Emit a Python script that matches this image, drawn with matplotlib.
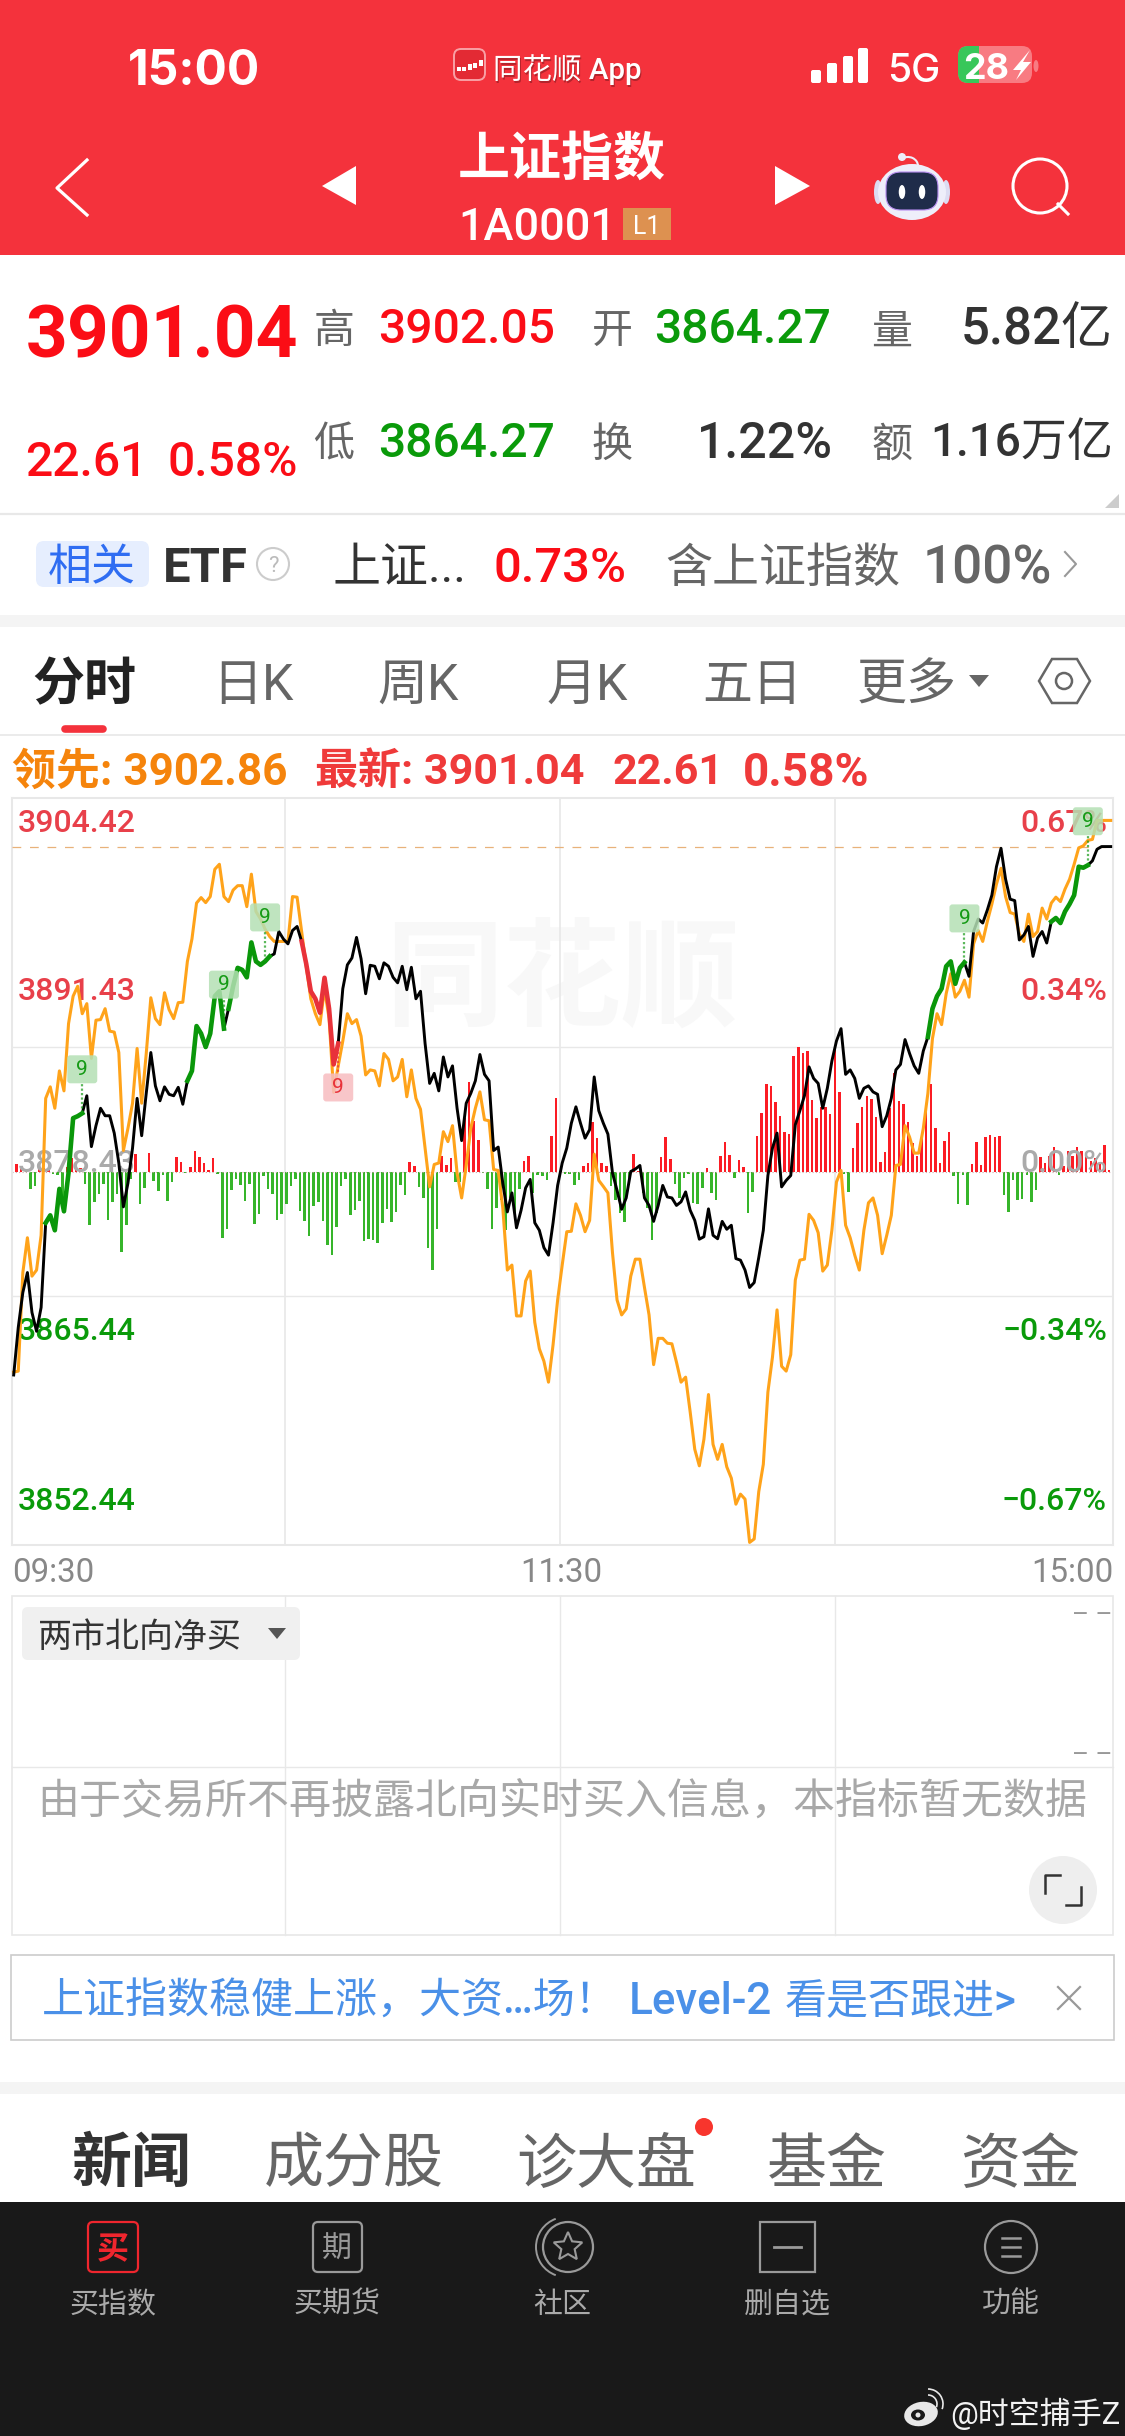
#!/usr/bin/env python3
# -*- coding: utf-8 -*-
"""Shanghai index intraday screen (mobile quote app)."""

import numpy as np
import matplotlib
matplotlib.use("Agg")
import matplotlib.pyplot as plt
from matplotlib.patches import Circle, Ellipse, FancyBboxPatch, Polygon, Rectangle, Arc

plt.rcParams["font.family"] = ["Roboto", "Noto Sans CJK SC", "DejaVu Sans"]

# -------------------------------------------------------
# Data: one value per minute, 09:30 -> 15:00
# -------------------------------------------------------
index_price = [
    3864.27, 3867.58, 3870.01, 3871.40, 3868.62, 3867.31, 3868.97, 3874.86, 3875.38, 3874.34,
    3877.22, 3875.66, 3878.33, 3882.14, 3882.28, 3882.48, 3883.70, 3880.16, 3881.62, 3882.83,
    3882.31, 3882.31, 3881.10, 3879.02, 3875.97, 3877.63, 3880.06, 3883.52, 3880.92, 3883.87,
    3886.71, 3884.39, 3883.35, 3884.32, 3883.80, 3883.70, 3884.29, 3883.11, 3884.74, 3885.43,
    3888.55, 3888.03, 3887.09, 3888.03, 3890.63, 3890.97, 3888.37, 3889.76, 3891.32, 3892.60,
    3892.46, 3891.94, 3894.37, 3893.05, 3892.81, 3893.05, 3893.40, 3893.57, 3895.13, 3894.61,
    3894.27, 3895.20, 3895.48, 3894.44, 3892.88, 3890.97, 3890.45, 3889.48, 3891.91, 3889.76,
    3885.88, 3887.34, 3891.15, 3892.81, 3893.29, 3894.72, 3893.23, 3890.80, 3892.78, 3892.71,
    3891.84, 3892.95, 3892.71, 3891.94, 3891.56, 3892.71, 3891.08, 3892.64, 3890.45, 3890.97,
    3887.34, 3884.56, 3885.26, 3884.04, 3886.40, 3885.01, 3885.78, 3882.83, 3880.58, 3883.18,
    3883.87, 3884.74, 3886.57, 3885.19, 3884.74, 3879.89, 3880.13, 3877.63, 3875.62, 3876.94,
    3874.51, 3875.73, 3877.29, 3877.88, 3874.86, 3874.34, 3873.13, 3872.61, 3874.86, 3877.46,
    3879.02, 3880.06, 3881.79, 3882.93, 3881.79, 3880.75, 3881.34, 3885.01, 3882.66, 3881.79,
    3881.03, 3878.33, 3877.11, 3875.80, 3876.59, 3878.43, 3878.60, 3878.85, 3876.59, 3876.07,
    3874.96, 3876.07, 3877.46, 3876.66, 3876.59, 3876.07, 3876.32, 3877.01, 3875.73, 3875.03,
    3873.72, 3873.89, 3875.83, 3873.99, 3873.75, 3874.96, 3874.41, 3874.69, 3872.37, 3872.26,
    3871.57, 3870.36, 3870.70, 3872.44, 3874.34, 3878.15, 3880.06, 3881.10, 3877.36, 3877.81,
    3878.15, 3881.69, 3882.66, 3883.70, 3885.71, 3884.91, 3884.56, 3882.83, 3884.22, 3886.12,
    3887.51, 3888.37, 3885.19, 3885.50, 3884.91, 3883.52, 3884.22, 3884.39, 3883.97, 3883.80,
    3881.55, 3882.31, 3883.52, 3885.50, 3885.88, 3887.61, 3886.64, 3885.78, 3885.26, 3886.82,
    3887.79, 3889.76, 3890.63, 3891.15, 3892.71, 3893.05, 3891.49, 3892.60, 3892.98, 3892.01,
    3895.13, 3896.00, 3895.72, 3896.62, 3897.66, 3899.64, 3900.92, 3898.77, 3897.38, 3897.28,
    3894.54, 3894.89, 3895.48, 3893.40, 3894.68, 3895.13, 3894.33, 3895.82, 3896.07, 3895.72,
    3896.52, 3897.04, 3897.66, 3899.64, 3899.57, 3899.74, 3900.05, 3900.85, 3901.04, 3901.04,
    3901.04,
]

leading_price = [
    3864.47, 3864.54, 3871.40, 3873.82, 3871.15, 3871.57, 3873.99, 3883.52, 3884.32, 3882.83,
    3885.43, 3884.04, 3888.72, 3890.63, 3891.32, 3889.41, 3890.11, 3886.30, 3888.96, 3889.00,
    3889.76, 3888.20, 3888.13, 3886.71, 3879.89, 3881.44, 3883.18, 3886.99, 3883.18, 3886.64,
    3890.52, 3889.07, 3888.65, 3890.87, 3889.69, 3889.07, 3890.18, 3890.21, 3893.05, 3894.61,
    3897.11, 3897.49, 3897.14, 3897.56, 3899.46, 3899.81, 3897.56, 3897.21, 3898.01, 3898.32,
    3898.32, 3896.86, 3899.12, 3896.52, 3896.00, 3895.30, 3894.78, 3894.44, 3894.44, 3894.44,
    3894.44, 3897.56, 3897.52, 3895.13, 3892.71, 3890.45, 3889.41, 3888.65, 3891.15, 3889.07,
    3883.94, 3885.78, 3887.51, 3889.41, 3888.72, 3889.00, 3887.85, 3885.15, 3885.50, 3885.43,
    3884.39, 3886.64, 3886.23, 3884.74, 3885.01, 3886.23, 3883.63, 3885.50, 3883.52, 3882.76,
    3880.06, 3877.36, 3878.92, 3879.02, 3881.20, 3880.51, 3881.62, 3878.33, 3876.59, 3878.85,
    3881.44, 3882.83, 3883.97, 3882.03, 3881.96, 3878.57, 3878.50, 3875.90, 3871.57, 3871.92,
    3868.38, 3868.38, 3870.81, 3871.50, 3867.93, 3866.09, 3865.23, 3863.77, 3866.37, 3869.49,
    3871.92, 3874.24, 3874.27, 3876.18, 3875.38, 3874.24, 3875.03, 3879.64, 3877.81, 3877.39,
    3876.94, 3872.78, 3869.49, 3868.45, 3868.87, 3871.15, 3872.33, 3872.33, 3870.36, 3868.45,
    3864.99, 3866.82, 3866.82, 3866.48, 3866.44, 3865.16, 3863.77, 3864.12, 3861.69, 3859.10,
    3857.95, 3859.79, 3862.91, 3859.44, 3858.40, 3859.44, 3857.88, 3857.09, 3855.28, 3855.98,
    3855.63, 3852.62, 3852.86, 3856.15, 3858.06, 3863.08, 3865.51, 3868.80, 3864.88, 3864.54,
    3865.68, 3870.88, 3872.26, 3872.33, 3875.45, 3875.03, 3874.17, 3871.50, 3871.92, 3874.34,
    3877.70, 3878.50, 3874.69, 3873.82, 3872.61, 3871.57, 3874.34, 3876.25, 3876.59, 3875.38,
    3872.71, 3873.99, 3875.38, 3878.85, 3878.92, 3881.62, 3880.82, 3879.71, 3879.71, 3881.44,
    3883.87, 3887.68, 3889.41, 3888.65, 3890.80, 3892.19, 3890.56, 3890.97, 3891.74, 3890.56,
    3894.27, 3895.20, 3894.44, 3895.82, 3897.04, 3898.42, 3899.53, 3897.56, 3896.45, 3896.34,
    3894.96, 3894.44, 3896.34, 3894.78, 3895.13, 3896.76, 3896.00, 3897.11, 3897.52, 3897.21,
    3898.08, 3898.77, 3899.81, 3900.95, 3901.09, 3901.47, 3901.54, 3902.86, 3902.86, 3902.86,
    3902.86,
]

# buy/sell difference bars (arbitrary units)
flow_bars = [
    4, 15, 8, 3, -35, -30, 5, 8, 3, -5,
    -8, -60, 10, 28, 12, 8, -25, -108, -62, -45,
    -25, -97, -62, -45, -162, -108, -15, 35, -65, -33,
    38, -20, -40, -8, -60, -22, 30, 20, -3, 10,
    42, 30, 18, 3, 28, -5, -133, -115, -38, -15,
    -27, -60, -25, -105, -85, -10, -35, -45, -97, -85,
    -65, -30, -15, -80, -100, -130, -70, -62, -100, -147,
    -168, -112, -30, -15, -87, -77, -60, -140, -135, -138,
    -143, -103, -75, -101, -81, -28, -48, 19, 11, -31,
    -53, -153, -198, -116, 32, 14, 27, -21, -21, 107,
    179, 102, 64, -3, -36, -116, -73, -58, -118, -53,
    -98, -35, 22, 32, -43, -8, -10, -18, 72, 147,
    2, -5, -6, -28, -18, 12, 17, 99, 67, 17,
    12, -30, -58, -83, -101, -28, 35, 2, -43, -73,
    -138, -83, 29, 70, 25, -25, -53, -13, -6, -63,
    -66, -33, 7, -43, -58, 32, 59, 34, -13, 24,
    9, -83, -41, 72, 117, 175, 172, 139, 112, 80,
    75, 232, 251, 237, 241, 144, 107, 130, 130, 115,
    250, 160, -5, -41, 47, 97, 130, 152, 145, 110,
    19, 39, 127, 197, 142, 135, 99, 57, 32, 67,
    132, 175, 87, 17, 61, 79, -10, -65, -8, -68,
    15, 60, 14, 70, 74, 69, 71, -48, -81, -18,
    -58, -56, -8, -61, -38, 29, 17, 32, 49, -8,
    12, 42, 32, 49, 42, 32, 22, 27, 17, 54,
    4,
]

green_runs = [(7, 15), (38, 46), (47, 56), (200, 208), (227, 235)]
red_runs = [(63, 71)]
signal_green = [15, 46, 55, 208, 235]
signal_red = [71]

prev_close = 3878.43
last_price = 3901.04
y_labels_left = ["3904.42", "3891.43", "3878.43", "3865.44", "3852.44"]
y_labels_right = ["0.67%", "0.34%", "0.00%", "\u22120.34%", "\u22120.67%"]
time_labels = ["09:30", "11:30", "15:00"]
quote_tabs = ["日K", "周K", "月K", "五日"]
news_tabs = ["新闻", "成分股", "诊大盘", "基金", "资金"]
nav_labels = ["买指数", "买期货", "社区", "删自选", "功能"]

RED = "#f4323c"
QUOTE_RED = "#fb0d16"
QUOTE_GREEN = "#0a9a0a"
GRID = "#e8e8e8"
W, H = 1125, 2436

fig = plt.figure(figsize=(W / 100, H / 100), dpi=100, facecolor="white")

# page layer: coordinates in image pixels, y going down
ui = fig.add_axes([0, 0, 1, 1], zorder=0)
ui.set_xlim(0, W)
ui.set_ylim(H, 0)
ui.axis("off")


def txt(x, y, s, px, color, ha="left", weight="normal", axis=None, zorder=5, family=None):
    target = axis if axis is not None else ui
    t = target.text(x, y, s, fontsize=px * 0.72, color=color, ha=ha, va="center_baseline",
                    fontweight=weight, transform=ui.transData, zorder=zorder, clip_on=False)
    if family:
        t.set_family(family)
    return t


def box(x0, y0, x1, y1, fc, ec="none", r=0, lw=1.0, zorder=2):
    ui.add_patch(FancyBboxPatch((x0 + r, y0 + r), x1 - x0 - 2 * r, y1 - y0 - 2 * r,
                                boxstyle=f"round,pad={r}" if r else "square,pad=0",
                                fc=fc, ec=ec, lw=lw, zorder=zorder))


INTER = ["Inter", "Noto Sans CJK SC"]

# -------------------------------------------------------
# Header
# -------------------------------------------------------
ui.add_patch(Rectangle((0, 0), W, 255, fc=RED, ec="none", zorder=1))
txt(194, 67, "15:00", 48, "white", ha="center", weight="bold", family=INTER)
box(454, 49, 485, 80, "#e32a34", ec="#f9a0a5", r=7, lw=1.4)
for cx, cy, ch in [(457, 67, 4), (462, 67, 4), (468, 64, 6), (473, 63, 5), (479, 60, 6)]:
    ui.add_patch(Rectangle((cx, cy), 3.5, ch, fc="white", ec="none", zorder=3))
txt(494.5, 68.5, "同花顺 App", 29.5, "#b3242c", weight="medium", zorder=4)
txt(493, 67, "同花顺 App", 29.5, "white", weight="medium")
for bx, btop in zip([811, 827, 843, 858], [70, 63, 56, 48]):
    box(bx, btop, bx + 10, 83, "white", r=2, zorder=3)
txt(887, 67, "5G", 39, "white", weight="medium", family=INTER)
box(958, 46, 1032, 83, "#f87b82", r=10)
box(958, 46, 985, 83, "#38c75a", r=10)
ui.add_patch(Rectangle((973, 46), 7, 37, fc="#38c75a", ec="none", zorder=2))
ui.add_patch(Rectangle((979, 46), 8, 37, fc="#f87b82", ec="none", zorder=2))
txt(963, 66, "28", 36, "white", weight="bold", family=INTER)
ui.add_patch(Polygon([(1030, 50), (1013, 70), (1021, 70), (1016, 80), (1031, 62), (1023, 62)],
                     fc="white", ec="none", zorder=5))
ui.add_patch(Ellipse((1036, 66), 5, 12, fc="#f87b82", ec="none", zorder=2))

txt(562, 155, "上证指数", 52, "white", ha="center", weight="bold")
txt(458, 223, "1A0001", 45, "white", weight="medium")
ui.add_patch(Rectangle((623, 208), 48, 32, fc="#dd9150", ec="none", zorder=3))
txt(647, 224, "L1", 25, "white", ha="center")

ui.plot([87, 57, 87], [160, 188, 215], color="white", lw=2.3, zorder=3)
ui.add_patch(Polygon([(356, 166), (322, 186), (356, 205)], fc="white", ec="none", zorder=3))
ui.add_patch(Polygon([(775, 166), (810, 186), (775, 205)], fc="white", ec="none", zorder=3))

# robot + search icons
for ex in (878, 946):
    ui.add_patch(Ellipse((ex, 192), 8, 24, fc="#dcdcf2", ec="none", zorder=3))
ui.add_patch(Ellipse((912, 192), 68, 56, fc="#eeeefa", ec="none", zorder=3))
box(886, 172, 938, 210, "#1f2c4a", ec="#b78cf0", r=15, lw=0.8, zorder=4)
for ex in (902, 922):
    ui.add_patch(Ellipse((ex, 192), 6.5, 14, fc="white", ec="none", zorder=5))
ui.add_patch(Arc((908, 166), 20, 18, theta1=230, theta2=360, ec="#eeeefa", lw=1.5, zorder=3))
ui.add_patch(Circle((902, 157), 4, fc="#eeeefa", ec="none", zorder=3))
ui.add_patch(Circle((1040, 186), 27, fc="none", ec="white", lw=2.2, zorder=3))
ui.plot([1058, 1068], [204, 214], color="white", lw=2.2, zorder=3)

# -------------------------------------------------------
# Quote block
# -------------------------------------------------------
DARK = "#333333"
LABEL = "#666666"
txt(26, 331, "3901.04", 73, QUOTE_RED, weight="bold")
txt(25, 458, "22.61", 48, QUOTE_RED, weight="medium")
txt(168, 458, "0.58%", 48, QUOTE_RED, weight="medium")
for x, y, s in [(334, 328, "高"), (612, 328, "开"), (892, 328, "量"),
                (334, 441, "低"), (612, 441, "换"), (892, 441, "额")]:
    txt(x, y, s, 41, LABEL, ha="center")
txt(378, 325, "3902.05", 48, QUOTE_RED, weight="medium")
txt(654, 325, "3864.27", 48, QUOTE_GREEN, weight="medium")
txt(378, 439, "3864.27", 48, QUOTE_GREEN, weight="medium")
txt(1113, 325, "5.82亿", 51, DARK, ha="right", weight="medium")
txt(833, 439, "1.22%", 50, DARK, ha="right", weight="medium")
txt(1113, 439, "1.16万亿", 46, DARK, ha="right", weight="medium")
ui.add_patch(Polygon([(1105, 508), (1119, 494), (1119, 508)], fc="#cccccc", ec="none", zorder=3))
ui.plot([0, W], [514, 514], color=GRID, lw=1.6, zorder=2)

box(36, 541, 149, 587, "#e6eefe", r=8)
txt(92, 564, "相关", 44, "#2f6df2", ha="center")
txt(163, 564, "ETF", 49, DARK, weight="bold")
ui.add_patch(Circle((273, 564), 16, fc="white", ec="#cccccc", lw=1.5, zorder=3))
txt(273, 564, "?", 22, "#bbbbbb", ha="center")
txt(333, 564, "上证...", 48, DARK)
txt(494, 564, "0.73%", 49, QUOTE_RED, weight="medium")
txt(665, 564, "含上证指数", 47, LABEL)
txt(923, 564, "100%", 53, LABEL, weight="medium")
ui.plot([1065, 1076, 1065], [552, 564, 576], color="#999999", lw=1.5, zorder=3)
ui.add_patch(Rectangle((0, 615), W, 12, fc="#f4f4f4", ec="none", zorder=1))

# -------------------------------------------------------
# Period tabs
# -------------------------------------------------------
txt(84, 681, "分时", 52, "#222222", ha="center", weight="bold")
for x, s in zip([253, 418, 587, 752], quote_tabs):
    txt(x, 681, s, 50, LABEL, ha="center")
txt(857, 681, "更多", 50, LABEL)
ui.add_patch(Polygon([(969, 675), (989, 675), (979, 687)], fc=LABEL, ec="none", zorder=3))
ui.plot([65, 103], [729, 729], color=RED, lw=5.5, solid_capstyle="round", zorder=3)
ui.add_patch(Polygon([(1039, 681), (1052, 659), (1077, 659), (1090, 681), (1077, 703), (1052, 703)],
                     fc="none", ec=LABEL, lw=1.8, zorder=3))
ui.add_patch(Circle((1064, 681), 8, fc="none", ec=LABEL, lw=1.8, zorder=3))
ui.plot([0, W], [735, 735], color=GRID, lw=1.2, zorder=2)

ORANGE = "#f5840c"
txt(12, 768, "领先: 3902.86", 44, ORANGE, weight="bold")
txt(315, 768, "最新: 3901.04", 43, "#ef3a3a", weight="bold")
txt(612, 768, "22.61", 43, "#ef3a3a", weight="bold")
txt(743, 768, "0.58%", 46, "#ef3a3a", weight="bold")

# -------------------------------------------------------
# Price chart
# -------------------------------------------------------
minutes = np.arange(len(index_price))
x_left, x_right = -0.37, 240.5
box_pos = [12 / W, 1 - 1545 / H, (1113 - 12) / W, (1545 - 798) / H]

ax_bar = fig.add_axes(box_pos, zorder=1)
ax_bar.set_xlim(x_left, x_right)
ax_bar.set_ylim(-750, 750)
ax_bar.patch.set_alpha(0)
ax_bar.set_xticks([])
ax_bar.set_yticks([])
for side in ax_bar.spines.values():
    side.set_color(GRID)
    side.set_linewidth(1.5)

ax_bar.text(0.5, 0.75, "同花顺", transform=ax_bar.transAxes, fontsize=85, color="#f8f8f8",
            ha="center", va="center", fontweight="bold", zorder=0)
ax_bar.axhline(250, color=GRID, lw=1.0, zorder=1)
ax_bar.axhline(-250, color=GRID, lw=1.0, zorder=1)
for vx in (59.4, 119.5, 179.7):
    ax_bar.axvline(vx, color=GRID, lw=1.2, zorder=1)

flow = np.array(flow_bars)
ax_bar.bar(minutes - 0.36, flow, width=0.55,
           color=np.where(flow >= 0, "#fb1c24", "#36b52a"), zorder=2)
ax_bar.axhline(0, color="#c8a8a8", lw=0.8, ls=(0, (1, 2)), zorder=2)

label_rows = [820, 989, 1160, 1329, 1498]
label_colors = ["#e8404a", "#e8404a", "#aaaaaa", QUOTE_GREEN, QUOTE_GREEN]
for y, lab, col in zip(label_rows, y_labels_left, label_colors):
    txt(18, y, lab, 32, col, axis=ax_bar, zorder=4, weight="medium")
for y, lab, col in zip(label_rows, y_labels_right, label_colors):
    txt(1107, y, lab, 32, col, ha="right", axis=ax_bar, zorder=4, weight="medium")

ax = fig.add_axes(box_pos, zorder=2)
ax.set_xlim(x_left, x_right)
ax.set_ylim(3852.44, 3904.42)
ax.axis("off")

ax.axhline(last_price, color="#e8b27a", lw=0.9, ls=(0, (7, 7)), zorder=1)
ax.plot(minutes, leading_price, color="#ffa31a", lw=2.2, solid_joinstyle="round", zorder=2,
        clip_on=False)
ax.plot(minutes, index_price, color="black", lw=2.1, solid_joinstyle="round", zorder=3)
price = np.array(index_price)
for start, end in green_runs:
    ax.plot(minutes[start:end + 1], price[start:end + 1], color="#0a970a", lw=3.3,
            solid_joinstyle="round", zorder=4)
for start, end in red_runs:
    ax.plot(minutes[start:end + 1], price[start:end + 1], color="#e8323a", lw=3.3,
            solid_joinstyle="round", zorder=4)

# "9" signal tags, placed from the series itself
top = fig.add_axes([0, 0, 1, 1], zorder=3)
top.set_xlim(0, W)
top.set_ylim(H, 0)
top.axis("off")
fig.canvas.draw()


def tag(minute, above, fc, color):
    dx, dy = ax.transData.transform((minute, index_price[minute]))
    py = H - dy
    cy = py - 44 if above else py + 44
    edge = cy + 15 if above else cy - 15
    top.plot([dx, dx], [py, edge], color=color, lw=1.6, ls=(0, (1, 1)), alpha=0.7)
    top.add_patch(FancyBboxPatch((dx - 12, cy - 11), 24, 22, boxstyle="round,pad=3",
                                 fc=fc, ec="none", alpha=0.85))
    top.text(dx, cy, "9", fontsize=15, color=color, ha="center", va="center")


for m in signal_green:
    tag(m, True, "#b4e0b4", "#159a15")
for m in signal_red:
    tag(m, False, "#f7bcc0", "#e8323a")

txt(12, 1570, time_labels[0], 33, "#888888")
txt(561, 1570, time_labels[1], 33, "#888888", ha="center")
txt(1114, 1570, time_labels[2], 33, "#888888", ha="right")

# -------------------------------------------------------
# Lower indicator panel
# -------------------------------------------------------
ui.add_patch(Rectangle((12, 1596), 1101, 339, fc="white", ec=GRID, lw=1.2, zorder=2))
ui.plot([12, 1113], [1767, 1767], color=GRID, lw=1, zorder=3)
for vx in (285, 560, 835):
    ui.plot([vx, vx], [1596, 1935], color=GRID, lw=1, zorder=3)
box(22, 1607, 300, 1660, "#f0f0f0", r=6, zorder=4)
txt(38, 1634, "两市北向净买", 34, "#333333")
ui.add_patch(Polygon([(268, 1628), (286, 1628), (277, 1639)], fc="#555555", ec="none", zorder=5))
txt(1113, 1613, "– –", 26, "#999999", ha="right")
txt(1113, 1752, "– –", 26, "#999999", ha="right")
txt(562, 1798, "由于交易所不再披露北向实时买入信息，本指标暂无数据", 42, "#a8a8a8", ha="center")
ui.add_patch(Circle((1063, 1890), 34, fc="#eeeeee", ec="none", zorder=3))
ui.plot([1045, 1045, 1060], [1893, 1875, 1875], color="#333333", lw=1.8, zorder=4)
ui.plot([1066, 1081, 1081], [1905, 1905, 1887], color="#333333", lw=1.8, zorder=4)

# banner
BLUE = "#4a90e8"
ui.add_patch(Rectangle((11, 1955), 1103, 85, fc="white", ec="#cccccc", lw=1.2, zorder=2))
txt(42, 1998, "上证指数稳健上涨，大资…场！", 42, BLUE, weight="medium")
txt(629, 1998, "Level-2", 44, BLUE, weight="medium")
txt(785, 1998, "看是否跟进>", 42, BLUE, weight="medium")
ui.plot([1058, 1080], [1987, 2009], color="#999999", lw=1.6, zorder=3)
ui.plot([1058, 1080], [2009, 1987], color="#999999", lw=1.6, zorder=3)

# -------------------------------------------------------
# News tabs and bottom navigation
# -------------------------------------------------------
ui.add_patch(Rectangle((0, 2082), W, 12, fc="#f4f4f4", ec="none", zorder=1))
for i, (x, s) in enumerate(zip([131, 354, 606, 827, 1020], news_tabs)):
    txt(x, 2160, s, 60, "#333333" if i == 0 else LABEL, ha="center", weight="bold" if i == 0 else "normal")
ui.add_patch(Circle((704, 2127), 9, fc="#f8352d", ec="none", zorder=4))

ui.add_patch(Rectangle((0, 2202), W, H - 2202, fc="#191919", ec="none", zorder=1))
NAV = "#9a9a9a"
for x, s in zip([113, 337, 562, 787, 1011], nav_labels):
    txt(x, 2302, s, 29, "#aaaaaa", ha="center")
box(88, 2222, 138, 2272, "none", ec="#f0262e", r=5, lw=1.6, zorder=3)
txt(113, 2247, "买", 32, "#f0262e", ha="center", weight="bold")
box(313, 2222, 362, 2272, "none", ec=NAV, r=5, lw=1.6, zorder=3)
txt(337, 2247, "期", 30, NAV, ha="center")
ui.add_patch(Circle((568, 2247), 25, fc="none", ec=NAV, lw=1.6, zorder=3))
ui.add_patch(Arc((566, 2247), 60, 60, theta1=110, theta2=250, ec=NAV, lw=1.4, zorder=3))
star_t = np.deg2rad(np.arange(-90, 270, 36))
star_r = np.where(np.arange(10) % 2 == 0, 15, 7)
ui.add_patch(Polygon(np.c_[568 + star_r * np.cos(star_t), 2247 + star_r * np.sin(star_t)],
                     fc="none", ec=NAV, lw=1.5, zorder=3))
ui.add_patch(Rectangle((760, 2222), 55, 50, fc="none", ec=NAV, lw=1.6, zorder=3))
ui.plot([774, 801], [2247, 2247], color=NAV, lw=2, zorder=3)
ui.add_patch(Circle((1011, 2247), 26, fc="none", ec=NAV, lw=1.6, zorder=3))
for ly in (2238, 2247, 2256):
    ui.plot([1002, 1020], [ly, ly], color=NAV, lw=1.8, zorder=3)

# weibo mark
ui.add_patch(Ellipse((921, 2414), 34, 24, angle=-12, fc="#e8e8e8", ec="none", zorder=3))
ui.add_patch(Ellipse((918, 2415), 14, 11, fc="#191919", ec="none", zorder=4))
ui.add_patch(Circle((918, 2415), 2.5, fc="#e8e8e8", ec="none", zorder=5))
ui.add_patch(Arc((928, 2404), 18, 18, theta1=270, theta2=20, ec="#e8e8e8", lw=1.2, zorder=3))
ui.add_patch(Arc((928, 2404), 30, 30, theta1=270, theta2=20, ec="#e8e8e8", lw=1.2, zorder=3))
txt(950, 2411, "@时空捕手Z", 31, "#f2f2f2")

fig.savefig("out.png", dpi=100, facecolor="white")
